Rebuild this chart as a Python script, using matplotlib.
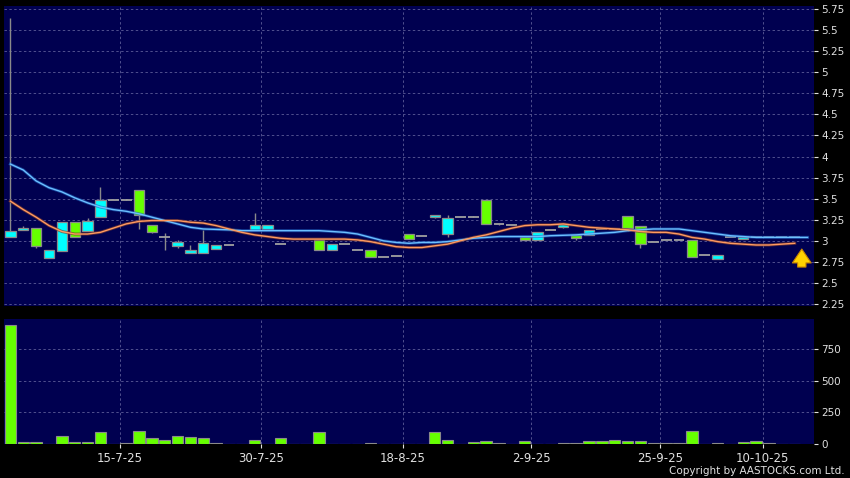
import matplotlib
matplotlib.use("Agg")
import matplotlib.pyplot as plt
import numpy as np

# daily OHLC (None = no trade that day)
opens  = [3.04, 3.13, 3.15, 2.80, 2.88, 3.22, 3.12, 3.28, 3.48, 3.48,
          3.60, 3.19, 3.05, 2.94, 2.85, 2.85, 2.90, 2.95, None, 3.13,
          3.14, 2.96, None, None, 3.01, 2.89, 2.96, 2.89, 2.89, 2.81,
          2.82, 3.08, 3.06, 3.28, 3.08, 3.28, 3.28, 3.48, 3.20, 3.19,
          3.04, 3.01, 3.13, 3.16, 3.07, 3.07, 3.14, 3.14, 3.29, 3.17,
          2.98, 3.01, 3.01, 3.01, 2.83, 2.78, 3.04, 3.02, 3.04, 3.04,
          3.04, 3.04]
highs  = [5.64, 3.18, 3.15, 2.89, 3.22, 3.22, 3.27, 3.64, 3.48, 3.49,
          3.60, 3.19, 3.09, 3.01, 2.95, 3.13, 2.95, 2.95, None, 3.33,
          3.19, 2.96, None, None, 3.01, 2.96, 2.96, 2.89, 2.89, 2.81,
          2.82, 3.08, 3.06, 3.31, 3.30, 3.28, 3.29, 3.48, 3.20, 3.19,
          3.04, 3.11, 3.13, 3.20, 3.07, 3.13, 3.14, 3.15, 3.29, 3.17,
          2.98, 3.01, 3.01, 3.01, 2.83, 2.83, 3.04, 3.05, 3.04, 3.04,
          3.04, 3.04]
lows   = [3.04, 3.13, 2.92, 2.80, 2.88, 3.04, 3.12, 3.28, 3.48, 3.48,
          3.14, 3.09, 2.89, 2.91, 2.85, 2.85, 2.90, 2.95, None, 3.13,
          3.14, 2.96, None, None, 2.89, 2.89, 2.96, 2.89, 2.81, 2.81,
          2.82, 3.02, 3.06, 3.27, 3.05, 3.28, 3.28, 3.20, 3.19, 3.19,
          3.01, 3.01, 3.13, 3.15, 3.01, 3.07, 3.14, 3.14, 3.12, 2.91,
          2.98, 3.01, 3.01, 2.81, 2.83, 2.78, 3.04, 3.02, 3.04, 3.04,
          3.04, 3.04]
closes = [3.12, 3.15, 2.94, 2.89, 3.22, 3.04, 3.23, 3.48, 3.48, 3.48,
          3.30, 3.11, 3.05, 2.98, 2.89, 2.97, 2.95, 2.95, None, 3.19,
          3.19, 2.96, None, None, 2.89, 2.96, 2.96, 2.89, 2.81, 2.81,
          2.82, 3.02, 3.06, 3.31, 3.27, 3.28, 3.28, 3.20, 3.20, 3.19,
          3.01, 3.11, 3.13, 3.20, 3.03, 3.13, 3.14, 3.14, 3.15, 2.96,
          2.98, 3.01, 3.01, 2.81, 2.83, 2.83, 3.04, 3.05, 3.04, 3.04,
          3.04, 3.04]

# volume ('000)
volumes = [944, 13, 19, 3, 61, 13, 13, 98, 3, 8,
           104, 45, 32, 66, 59, 48, 11, 3, 0, 35,
           3, 45, 0, 0, 98, 2, 2, 3, 8, 2,
           2, 3, 2, 93, 35, 3, 13, 27, 11, 2,
           27, 2, 2, 11, 5, 27, 27, 35, 21, 24,
           8, 11, 11, 104, 2, 11, 2, 19, 21, 8,
           2, 2]

# moving averages
ma_blue = [3.91, 3.84, 3.71, 3.63, 3.58, 3.51, 3.45, 3.40, 3.37, 3.35,
           3.32, 3.28, 3.24, 3.20, 3.16, 3.14, 3.135, 3.13, 3.12, 3.12,
           3.12, 3.12, 3.12, 3.12, 3.12, 3.11, 3.10, 3.08, 3.04, 3.00,
           2.98, 2.97, 2.98, 2.98, 2.99, 3.01, 3.03, 3.04, 3.05, 3.05,
           3.05, 3.05, 3.06, 3.065, 3.07, 3.08, 3.09, 3.10, 3.12, 3.13,
           3.14, 3.14, 3.14, 3.12, 3.10, 3.08, 3.06, 3.05, 3.04, 3.04,
           3.04, 3.04, 3.04]
ma_orange = [3.47, 3.37, 3.28, 3.18, 3.11, 3.08, 3.08, 3.10, 3.15, 3.20,
             3.23, 3.24, 3.24, 3.24, 3.22, 3.21, 3.18, 3.14, 3.10, 3.07,
             3.05, 3.03, 3.02, 3.02, 3.02, 3.02, 3.02, 3.01, 2.99, 2.96,
             2.93, 2.92, 2.92, 2.94, 2.96, 3.00, 3.04, 3.07, 3.11, 3.15,
             3.18, 3.19, 3.19, 3.20, 3.18, 3.16, 3.15, 3.14, 3.13, 3.11,
             3.10, 3.10, 3.08, 3.04, 3.02, 2.99, 2.97, 2.96, 2.95, 2.95,
             2.96, 2.97]

date_labels = ["15-7-25", "30-7-25", "18-8-25", "2-9-25", "25-9-25", "10-10-25"]
date_pos = [8.5, 19.5, 30.5, 40.5, 50.5, 58.5]

bg = "#000050"
grid_c = "#50508e"
up_c = "#00ffff"
down_c = "#66ff00"
edge_c = "#8a8a8a"
txt_c = "#e0e0e0"
dash = (0, (2.5, 2.5))

fig = plt.figure(figsize=(8.5, 4.78), dpi=100, facecolor="black")
ax = fig.add_axes([4/850, 1-306/478, 810/850, 300/478])
axv = fig.add_axes([4/850, 1-444/478, 810/850, 125/478])

for a in (ax, axv):
    a.set_facecolor(bg)
    for s in a.spines.values():
        s.set_visible(False)
    a.yaxis.tick_right()
    a.tick_params(axis="y", colors=txt_c, labelsize=7.5, length=3, width=0.8, pad=2)
    a.set_xlim(-0.5, 62.5)
    for p in date_pos:
        a.axvline(p, color=grid_c, lw=0.7, ls=dash, zorder=1)

# price panel
yt = np.arange(2.25, 5.76, 0.25)
ax.set_ylim(2.226, 5.786)
ax.set_yticks(yt)
ax.set_yticklabels(["%g" % v for v in yt])
for v in yt:
    ax.axhline(v, color=grid_c, lw=0.7, ls=dash, zorder=1)
ax.set_xticks([])

for i in range(len(opens)):
    o, h, l, c = opens[i], highs[i], lows[i], closes[i]
    if o is None:
        continue
    ax.vlines(i, l, h, color=edge_c, lw=1, zorder=2)
    if o == c:
        ax.hlines(o, i - 0.42, i + 0.42, color="#a0a0a0", lw=1.3, zorder=3)
    else:
        col = up_c if c > o else down_c
        ax.bar(i, abs(c - o), bottom=min(o, c), width=0.8, color=col,
               edgecolor=edge_c, linewidth=0.9, zorder=3)

x_b = np.arange(len(ma_blue))
x_o = np.arange(len(ma_orange))
ax.plot(x_b, ma_blue, color="#1f5fbf", lw=2.2, alpha=0.6, zorder=4)
ax.plot(x_b, ma_blue, color="#6cc0ff", lw=1.0, zorder=5)
ax.plot(x_o, ma_orange, color="#7a3a30", lw=2.2, alpha=0.7, zorder=4)
ax.plot(x_o, ma_orange, color="#ff9a60", lw=1.0, zorder=5)

ax.annotate("", xy=(61.55, 2.935), xytext=(61.55, 2.655),
            arrowprops=dict(arrowstyle="simple,head_width=1.35,head_length=1.0,tail_width=0.6",
                            fc="#ffd200", ec="#c88400", lw=0.8), zorder=6)

# volume panel
axv.set_ylim(0, 990)
axv.set_yticks([0, 250, 500, 750])
for v in [250, 500, 750]:
    axv.axhline(v, color=grid_c, lw=0.7, ls=dash, zorder=1)
axv.bar(np.arange(len(volumes)), volumes, width=0.88, color=down_c,
        edgecolor=edge_c, linewidth=0.8, zorder=3)
axv.set_xticks(date_pos)
axv.set_xticklabels(date_labels)
axv.tick_params(axis="x", colors=txt_c, labelsize=8.5, length=3, width=0.8, pad=3)

fig.text(845/850, 1-471/478, "Copyright by AASTOCKS.com Ltd.", color=txt_c,
         fontsize=7.5, ha="right", va="center")

fig.savefig("out.png", dpi=100, facecolor="black")
